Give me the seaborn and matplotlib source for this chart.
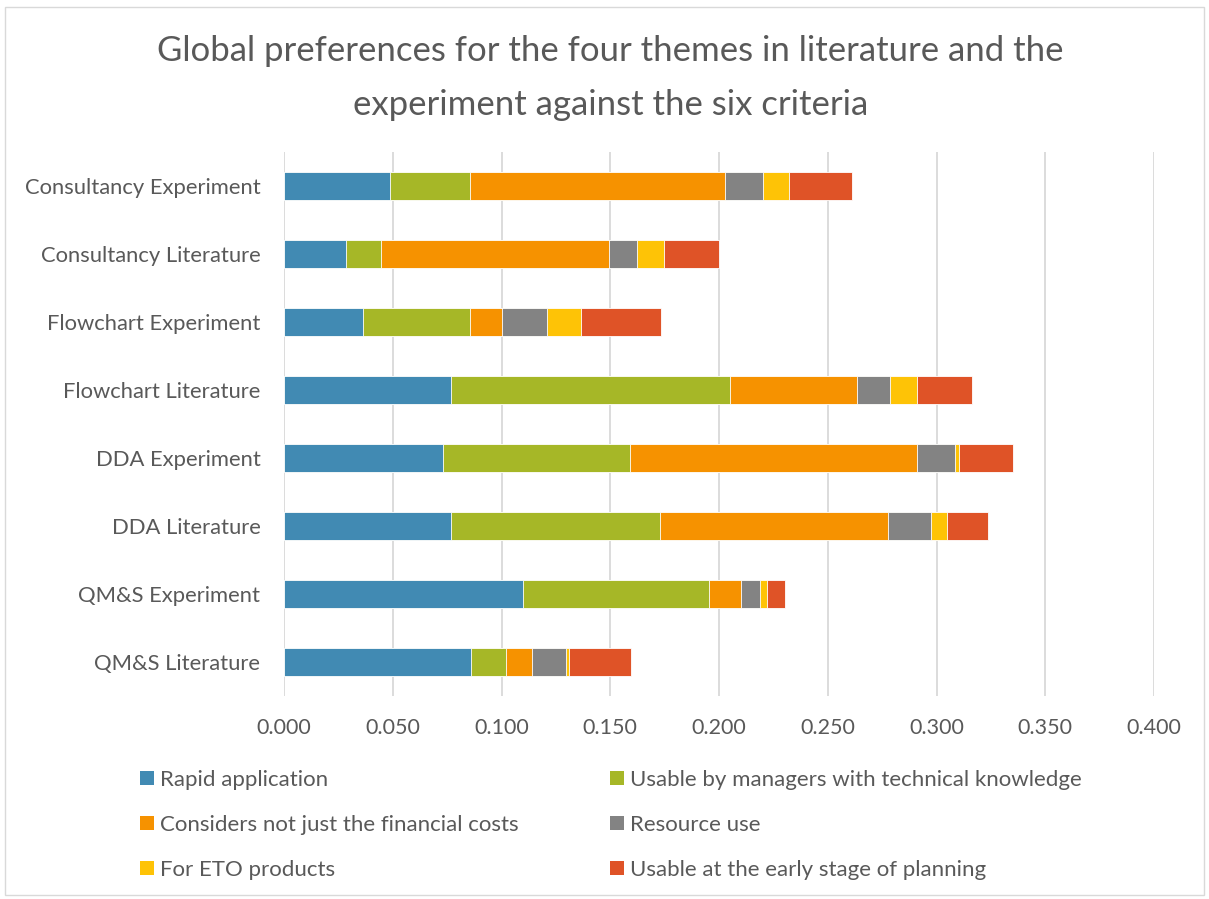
import matplotlib
matplotlib.use("Agg")
import matplotlib.pyplot as plt
import seaborn as sns
import numpy as np
import pandas as pd
from matplotlib.patches import Patch, Rectangle
from matplotlib.ticker import FormatStrFormatter

categories = ["Consultancy Experiment", "Consultancy Literature", "Flowchart Experiment",
              "Flowchart Literature", "DDA Experiment", "DDA Literature",
              "QM&S Experiment", "QM&S Literature"]
series_names = ["Rapid application", "Usable by managers with technical knowledge",
                "Considers not just the financial costs", "Resource use",
                "For ETO products", "Usable at the early stage of planning"]
rapid      = [0.0487, 0.0285, 0.0362, 0.0766, 0.0729, 0.0766, 0.1098, 0.0862]
usable_mgr = [0.0367, 0.0160, 0.0493, 0.1285, 0.0860, 0.0965, 0.0856, 0.0160]
non_fin    = [0.1173, 0.1049, 0.0148, 0.0583, 0.1321, 0.1044, 0.0147, 0.0116]
resource   = [0.0176, 0.0130, 0.0204, 0.0152, 0.0177, 0.0202, 0.0089, 0.0158]
eto        = [0.0121, 0.0125, 0.0157, 0.0124, 0.0015, 0.0070, 0.0032, 0.0016]
early      = [0.0289, 0.0252, 0.0369, 0.0253, 0.0250, 0.0188, 0.0083, 0.0285]
colors = ["#418AB3", "#A6B727", "#F69200", "#838383", "#FEC306", "#DF5327"]

series = [rapid, usable_mgr, non_fin, resource, eto, early]

sns.set_theme(style="white")
plt.rcParams['font.family'] = ['Lato', 'DejaVu Sans']
txt = "#595959"

fig = plt.figure(figsize=(12.09, 8.99), dpi=100)
ax = fig.add_axes([284/1209, 1-696/899, 870/1209, 544/899])

cum = np.cumsum(np.array(series), axis=0)
for i in range(len(series) - 1, -1, -1):
    df = pd.DataFrame({"cat": categories, "val": cum[i]})
    sns.barplot(data=df, x="val", y="cat", orient="h", color=colors[i],
                width=0.42, saturation=1, ax=ax, zorder=3, linewidth=0.6,
                edgecolor="white")

ax.set_xlim(0, 0.4)
ax.set_xticks(np.arange(0, 0.401, 0.05))
ax.xaxis.set_major_formatter(FormatStrFormatter("%.3f"))
ax.grid(axis="x", color="#d9d9d9", linewidth=1.3, zorder=0)
ax.set_axisbelow(True)
for s in ax.spines.values():
    s.set_visible(False)
ax.set_xlabel("")
ax.set_ylabel("")
ax.tick_params(axis="x", labelsize=15.5, colors=txt, pad=16, length=0)
ax.tick_params(axis="y", labelsize=15.8, colors=txt, pad=17, length=0)

fig.text(0.505, 1-78/899, "Global preferences for the four themes in literature and the\nexperiment against the six criteria",
         ha="center", va="center", fontsize=25, color=txt, linespacing=1.85)

handles = [Patch(facecolor=c, edgecolor="none") for c in colors]
leg_kw = dict(frameon=False, fontsize=16, labelcolor=txt, handlelength=0.62,
              handleheight=0.62, handletextpad=0.3, labelspacing=1.12, borderpad=0,
              borderaxespad=0)
l1 = fig.legend([handles[0], handles[2], handles[4]],
                [series_names[0], series_names[2], series_names[4]],
                loc="upper left", bbox_to_anchor=(140/1209, 1-770/899), **leg_kw)
l2 = fig.legend([handles[1], handles[3], handles[5]],
                [series_names[1], series_names[3], series_names[5]],
                loc="upper left", bbox_to_anchor=(610/1209, 1-770/899), **leg_kw)

fig.patches.append(Rectangle((0.004, 0.004), 0.992, 0.988, transform=fig.transFigure,
                             fill=False, edgecolor="#d9d9d9", linewidth=1))

fig.savefig("out.png", dpi=100)
